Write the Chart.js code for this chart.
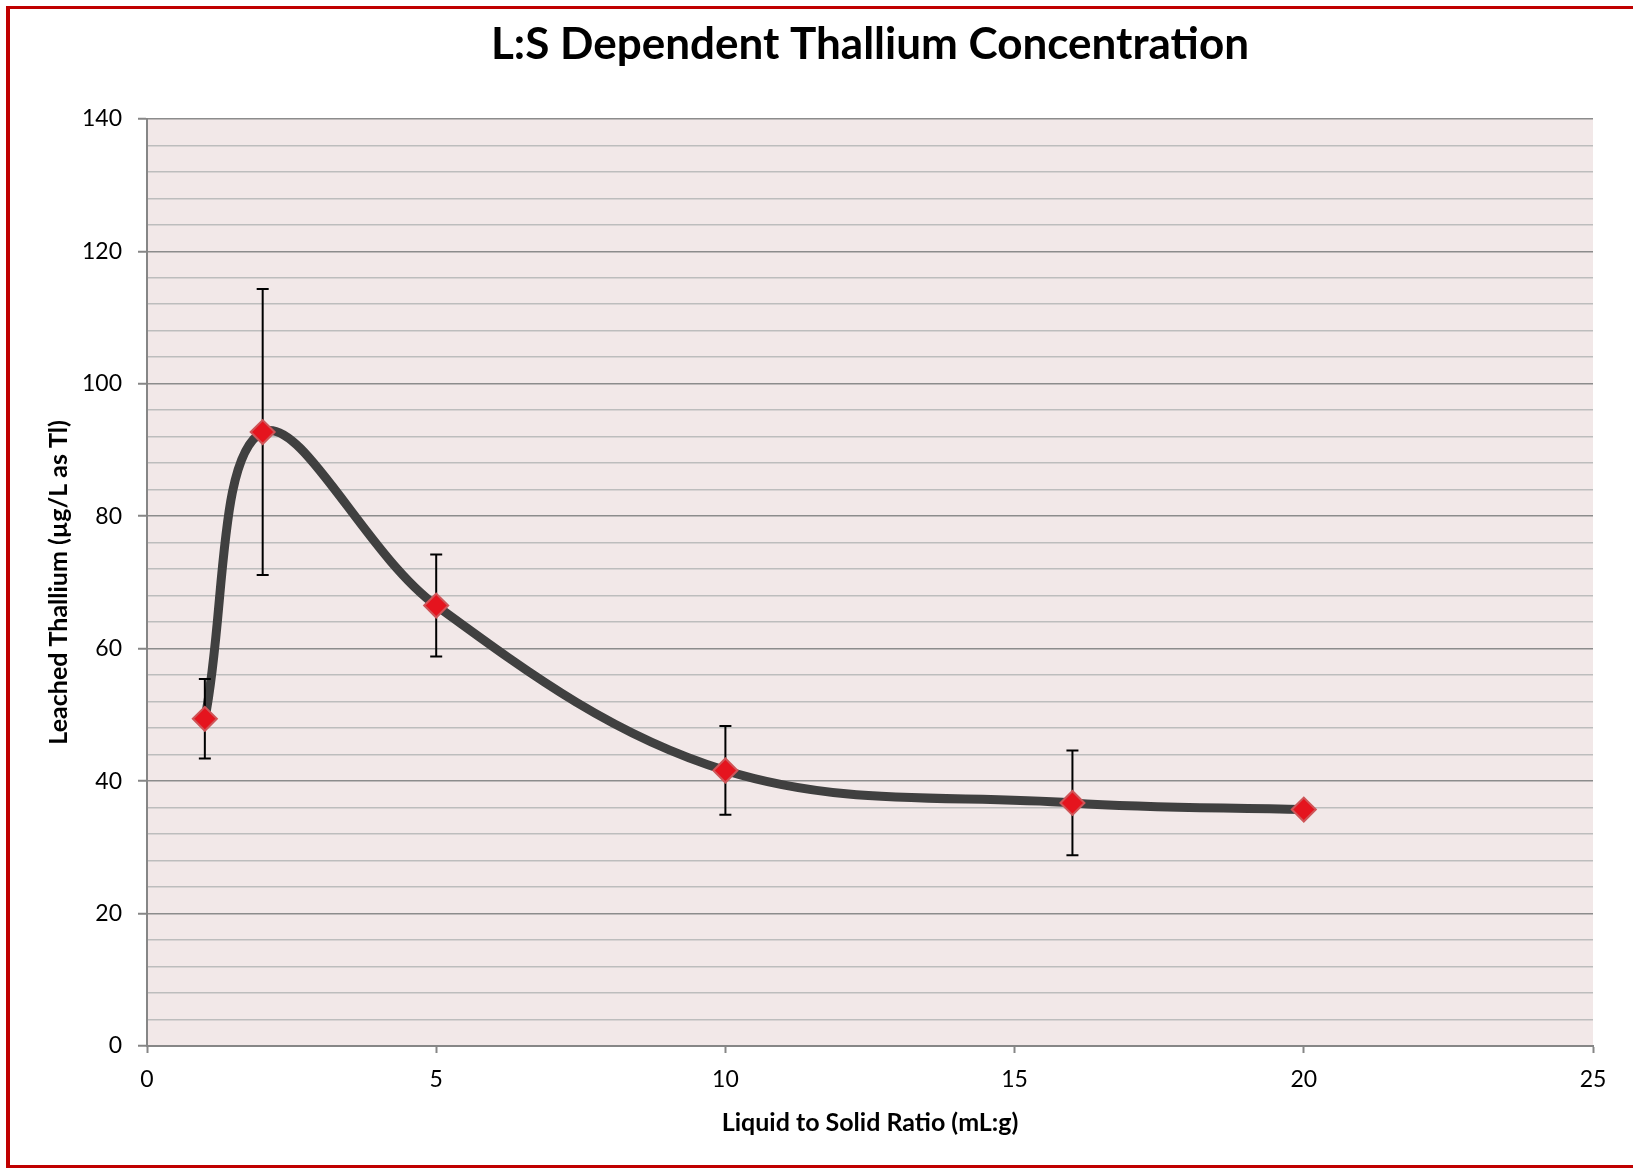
<!DOCTYPE html>
<html>
<head>
<meta charset="utf-8">
<script src="https://cdn.jsdelivr.net/npm/chart.js@4/dist/chart.umd.min.js"></script>
<style>
  html, body { margin: 0; padding: 0; background: #ffffff; overflow: hidden; }
  #wrap { position: relative; width: 1633px; height: 1168px; }
  #frame { position: absolute; left: 6px; top: 6px; width: 1700px; height: 1162px;
           border-left: 4px solid #C00000; border-top: 3px solid #C00000; border-bottom: 3px solid #C00000;
           box-sizing: border-box; pointer-events: none; }
  canvas { position: absolute; left: 0; top: 0; }
</style>
</head>
<body>
<div id="wrap">
  <canvas id="c" width="1633" height="1168"></canvas>
  <div id="frame"></div>
</div>
<script>
// ---- data ----
const chartTitle = 'L:S Dependent Thallium Concentration';
const xAxisTitle = 'Liquid to Solid Ratio (mL:g)';
const yAxisTitle = 'Leached Thallium (µg/L as Tl)';
const lsRatio   = [1, 2, 5, 10, 16, 20];
const thallium  = [49.4, 92.7, 66.5, 41.6, 36.7, 35.7];
const errorBars = [6.0, 21.6, 7.7, 6.7, 7.9, 0];
const xTicks = [0, 5, 10, 15, 20, 25];
const yTicks = [0, 20, 40, 60, 80, 100, 120, 140];

const points = lsRatio.map((x, i) => ({ x: x, y: thallium[i] }));

const FONT = 'Lato, "Open Sans", sans-serif';

const plotBg = {
  id: 'plotBg',
  beforeDraw(chart) {
    const a = chart.chartArea, ctx = chart.ctx;
    ctx.save();
    ctx.fillStyle = '#F2E8E8';
    ctx.fillRect(a.left, a.top, a.right - a.left, a.bottom - a.top);
    ctx.restore();
  }
};

const errorBarPlugin = {
  id: 'errorBarPlugin',
  afterDatasetDraw(chart, args) {
    if (args.index !== 0) return;
    const xs = chart.scales.x, ys = chart.scales.y, ctx = chart.ctx;
    ctx.save();
    ctx.strokeStyle = '#000000';
    ctx.lineWidth = 2;
    lsRatio.forEach((x, i) => {
      const e = errorBars[i];
      if (!e) return;
      const px = xs.getPixelForValue(x);
      const top = ys.getPixelForValue(thallium[i] + e);
      const bot = ys.getPixelForValue(thallium[i] - e);
      ctx.beginPath();
      ctx.moveTo(px, top); ctx.lineTo(px, bot);
      ctx.moveTo(px - 6, top); ctx.lineTo(px + 6, top);
      ctx.moveTo(px - 6, bot); ctx.lineTo(px + 6, bot);
      ctx.stroke();
    });
    ctx.restore();
  }
};

new Chart(document.getElementById('c'), {
  type: 'scatter',
  data: {
    datasets: [
      {
        label: 'curve',
        data: points,
        showLine: true,
        borderColor: '#404040',
        borderWidth: 9,
        tension: 0.36,
        pointRadius: 0,
        borderCapStyle: 'round',
        order: 2
      },
      {
        label: 'Thallium',
        data: points,
        showLine: false,
        pointStyle: 'rectRot',
        pointRadius: 12,
        backgroundColor: '#E5141E',
        borderColor: '#CF5558',
        borderWidth: 2,
        order: 1
      }
    ]
  },
  options: {
    responsive: false,
    animation: false,
    devicePixelRatio: 1,
    layout: { padding: { left: 10, right: 40, top: 0, bottom: 0 } },
    plugins: {
      legend: { display: false },
      tooltip: { enabled: false },
      title: {
        display: true,
        text: chartTitle,
        fullSize: false,
        color: '#000000',
        font: { family: FONT, size: 44, weight: 'bold', lineHeight: 1.2 },
        padding: { top: 18, bottom: 48 }
      }
    },
    scales: {
      x: {
        type: 'linear',
        min: 0, max: 25,
        afterFit(s) { s.height = 122; },
        afterBuildTicks(s) { s.ticks = xTicks.map(v => ({ value: v })); },
        ticks: { color: '#000000', padding: 13, font: { family: FONT, size: 23 }, maxRotation: 0 },
        grid: { drawOnChartArea: false, drawTicks: true, tickLength: 7, tickColor: '#868686', tickWidth: 2 },
        border: { display: true, color: '#868686', width: 2 },
        title: { display: true, text: xAxisTitle, color: '#000000',
                 font: { family: FONT, size: 25, weight: 'bold', lineHeight: 1.2 },
                 padding: { top: 0, bottom: 30 } }
      },
      y: {
        type: 'linear',
        min: 0, max: 140,
        afterFit(s) { s.width = 137; },
        ticks: {
          stepSize: 4,
          autoSkip: false,
          color: '#000000',
          padding: 16,
          font: { family: FONT, size: 23 },
          callback: (v) => yTicks.includes(v) ? String(v) : ''
        },
        grid: {
          drawOnChartArea: true,
          tickLength: 9,
          lineWidth: 1.5,
          tickWidth: 2,
          color: (ctx) => (ctx.tick && yTicks.includes(ctx.tick.value)) ? '#8C8C8C' : '#BDBDBD',
          tickColor: (ctx) => (ctx.tick && yTicks.includes(ctx.tick.value)) ? '#868686' : 'rgba(0,0,0,0)'
        },
        border: { display: true, color: '#868686', width: 2 },
        title: { display: true, text: yAxisTitle, color: '#000000',
                 font: { family: FONT, size: 25, weight: 'bold', lineHeight: 1.2 },
                 padding: { top: 34, bottom: 0 } }
      }
    }
  },
  plugins: [plotBg, errorBarPlugin]
});
</script>
</body>
</html>
